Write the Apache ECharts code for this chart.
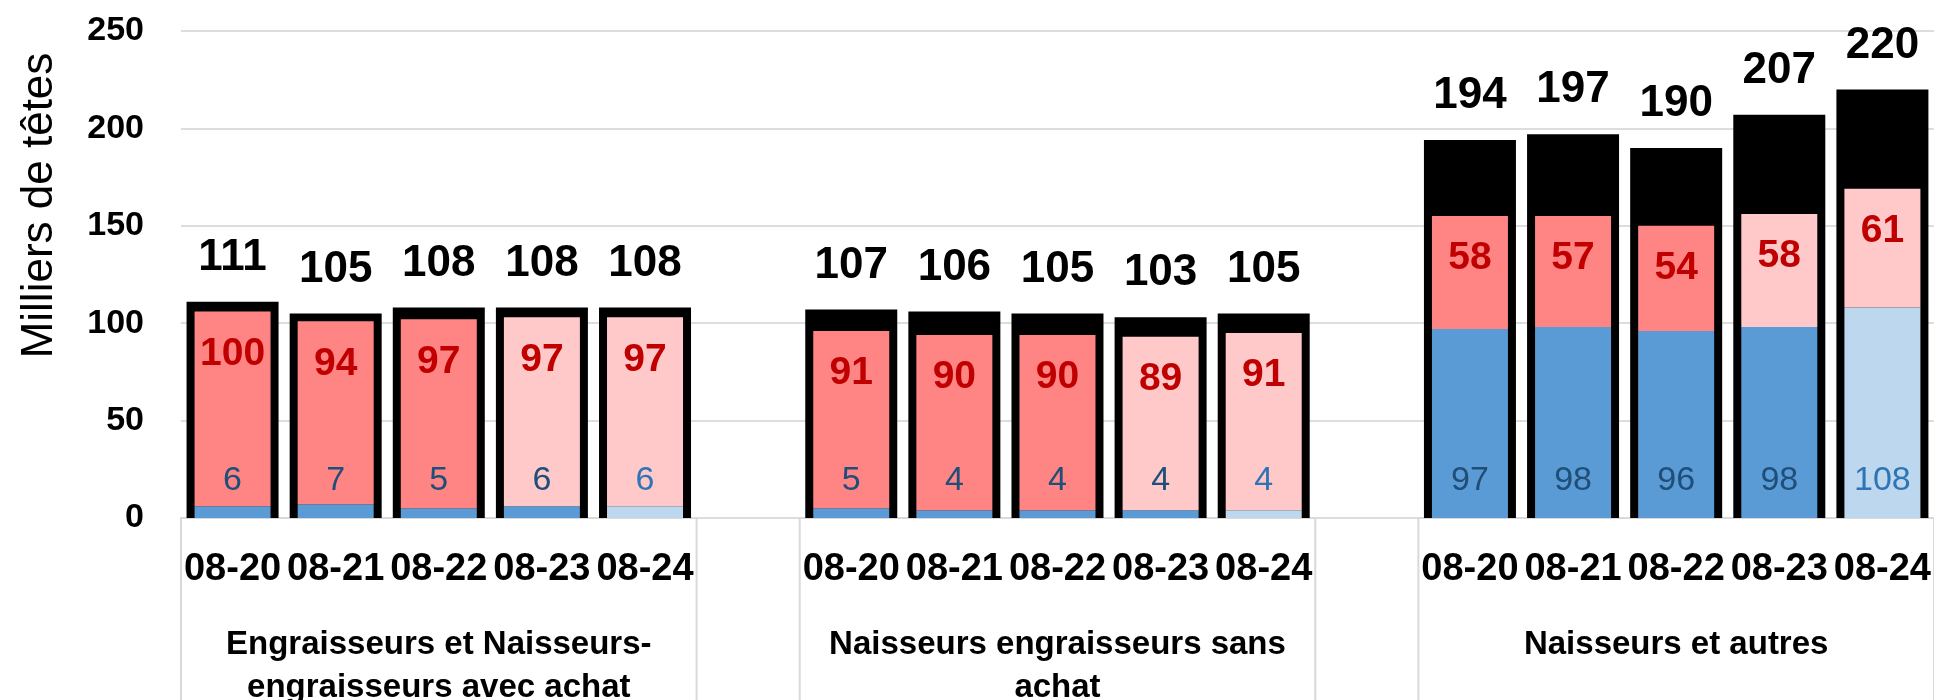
<!DOCTYPE html>
<html>
<head>
<meta charset="utf-8">
<script src="https://cdn.jsdelivr.net/npm/echarts@6/dist/echarts.min.js"></script>
<style>
  html, body { margin: 0; padding: 0; background: #fff; }
  #main { width: 1934px; height: 700px; }
</style>
</head>
<body>
<div id="main"></div>
<script>
// campagnes, groupes et effectifs (milliers de tetes)
var years = ['08-20', '08-21', '08-22', '08-23', '08-24']
var groupNames = ['Engraisseurs et Naisseurs-\nengraisseurs avec achat', 'Naisseurs engraisseurs sans\nachat', 'Naisseurs et autres']
var totals = [[111, 105, 108, 108, 108], [107, 106, 105, 103, 105], [194, 197, 190, 207, 220]]
var redVals = [[100, 94, 97, 97, 97], [91, 90, 90, 89, 91], [58, 57, 54, 58, 61]]
var blueVals = [[6, 7, 5, 6, 6], [5, 4, 4, 4, 4], [97, 98, 96, 98, 108]]
var yTicks = [0, 50, 100, 150, 200, 250]

var redColors = ['#FF8585', '#FF8585', '#FF8585', '#FFC9C9', '#FFC9C9']
var blueColors = ['#5B9BD5', '#5B9BD5', '#5B9BD5', '#5B9BD5', '#BDD7EE']
var blueLabelColors = ['#1F4E79', '#1F4E79', '#1F4E79', '#1F4E79', '#2E75B6']

var FONT = '"Liberation Sans", Arial, sans-serif'

// une case vide entre deux groupes
var categories = []
var blackData = []
var blueData = []
var redData = []
var frames = []
groupNames.forEach(function (name, g) {
  var start = categories.length
  years.forEach(function (y, i) {
    categories.push(y)
    blackData.push(totals[g][i])
    blueData.push({ value: blueVals[g][i], itemStyle: { color: blueColors[i] }, label: { color: blueLabelColors[i] } })
    redData.push({ value: redVals[g][i], itemStyle: { color: redColors[i] } })
  })
  frames.push([start, categories.length - 1, g])
  if (g < groupNames.length - 1) {
    categories.push('')
    blackData.push('-')
    blueData.push('-')
    redData.push('-')
  }
})

var chart = echarts.init(document.getElementById('main'))

var option = {
  animation: false,
  grid: { left: 181, right: 0, top: 31, bottom: 182 },
  xAxis: [
    {
      type: 'category',
      data: categories,
      axisLine: { show: false },
      axisTick: { show: false },
      axisLabel: { interval: 0, margin: 33, fontFamily: FONT, fontSize: 38, fontWeight: 'bold', color: '#000' }
    },
    { type: 'category', data: categories, show: false }
  ],
  yAxis: {
    type: 'value',
    min: yTicks[0],
    max: yTicks[yTicks.length - 1],
    interval: 50,
    name: 'Milliers de têtes',
    nameLocation: 'middle',
    nameGap: 119,
    nameTextStyle: { fontFamily: FONT, fontSize: 44, color: '#000', padding: [0, 0, 0, 138] },
    axisLine: { show: false },
    axisTick: { show: false },
    axisLabel: { margin: 37, fontFamily: FONT, fontSize: 34, fontWeight: 'bold', color: '#000' },
    splitLine: { lineStyle: { color: '#DDDDDD', width: 2 } }
  },
  series: [
    {
      type: 'custom',
      xAxisIndex: 0,
      yAxisIndex: 0,
      clip: false,
      silent: true,
      data: frames,
      renderItem: function (params, api) {
        var a = api.coord([api.value(0), 0])
        var b = api.coord([api.value(1), 0])
        var half = api.size([1, 0])[0] / 2
        var x1 = a[0] - half
        var x2 = b[0] + half
        var y0 = a[1]
        var h = api.getHeight()
        return {
          type: 'group',
          children: [
            {
              type: 'polyline',
              shape: { points: [[x1, h], [x1, y0], [x2, y0], [x2, h]] },
              style: { stroke: '#D9D9D9', lineWidth: 2, fill: null }
            },
            {
              type: 'text',
              style: {
                text: groupNames[api.value(2)],
                x: (x1 + x2) / 2,
                y: y0 + 105,
                align: 'center',
                verticalAlign: 'top',
                font: 'bold 33px ' + FONT,
                lineHeight: 43,
                fill: '#000'
              }
            }
          ]
        }
      }
    },
    {
      name: 'Total',
      type: 'bar',
      xAxisIndex: 0,
      barWidth: 92,
      itemStyle: { color: '#000' },
      label: { show: true, position: 'top', distance: 22, fontFamily: FONT, fontSize: 44, fontWeight: 'bold', color: '#000' },
      data: blackData
    },
    {
      name: 'Bleu',
      type: 'bar',
      xAxisIndex: 1,
      stack: 'in',
      barWidth: 76,
      label: { show: true, position: 'insideBottom', distance: 20, fontFamily: FONT, fontSize: 34 },
      data: blueData
    },
    {
      name: 'Rouge',
      type: 'bar',
      xAxisIndex: 1,
      stack: 'in',
      barWidth: 76,
      label: { show: true, position: 'insideTop', distance: 23, fontFamily: FONT, fontSize: 39, fontWeight: 'bold', color: '#C00000' },
      data: redData
    }
  ]
}

chart.setOption(option)
</script>
</body>
</html>
